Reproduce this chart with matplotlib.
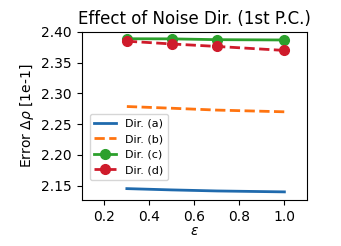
import numpy as np
import matplotlib
matplotlib.use("Agg")
import matplotlib.pyplot as plt

eps = [0.3, 0.5, 0.7, 1.0]
dir_a = [2.1453, 2.1432, 2.1415, 2.1400]
dir_b = [2.2788, 2.2760, 2.2730, 2.2702]
dir_c = [2.3890, 2.3888, 2.3875, 2.3870]
dir_d = [2.3850, 2.3805, 2.3765, 2.3700]

fig, ax = plt.subplots(figsize=(3.41, 2.46), dpi=100)
fig.subplots_adjust(left=0.24, right=0.9, top=0.87, bottom=0.185)

ax.plot(eps, dir_a, c="#1f6aad", lw=2, label="Dir. (a)")
ax.plot(eps, dir_b, c="#ff7410", lw=2, ls="--", label="Dir. (b)")
ax.plot(eps, dir_c, c="#2ca02c", lw=2, marker="o", ms=7, label="Dir. (c)")
ax.plot(eps, dir_d, c="#cf1b2b", lw=2, ls="--", marker="o", ms=7, label="Dir. (d)")

ax.set_xlim(0.1, 1.1)
ax.set_ylim(2.126, 2.40)
ax.set_xticks([0.2, 0.4, 0.6, 0.8, 1.0])
ax.set_yticks([2.15, 2.20, 2.25, 2.30, 2.35, 2.40])
ax.set_xlabel(r"$\varepsilon$", labelpad=0)
ax.set_ylabel(r"Error $\Delta\rho$ [1e-1]")
ax.set_title("Effect of Noise Dir. (1st P.C.)")
ax.legend(loc="lower left", bbox_to_anchor=(0.01, 0.09), fontsize=8)

plt.savefig("out.png", dpi=100)
